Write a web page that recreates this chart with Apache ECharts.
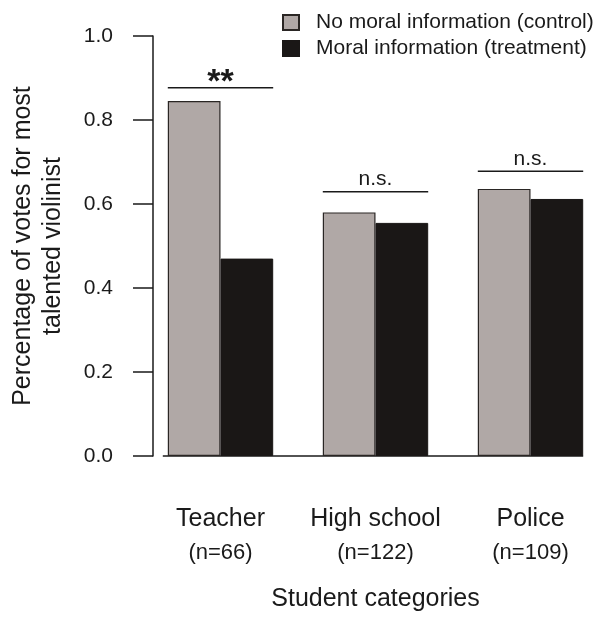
<!DOCTYPE html>
<html>
<head>
<meta charset="utf-8">
<script src="https://cdn.jsdelivr.net/npm/echarts@6/dist/echarts.min.js"></script>
<style>
  html, body { margin: 0; padding: 0; background: #fff; }
  #chart { width: 608px; height: 619px; }
</style>
</head>
<body>
<div id="chart"></div>
<script>
// data
const categories = ['Teacher', 'High school', 'Police']
const sampleSizes = [66, 122, 109]
const controlValues = [0.845, 0.580, 0.636]
const treatmentValues = [0.470, 0.555, 0.612]
const sigLevels = [0.877, 0.629, 0.678]
const sigLabels = ['**', 'n.s.', 'n.s.']

const FONT = 'Liberation Sans, Arial, sans-serif'
const INK = '#1a1a1a'
const chart = echarts.init(document.getElementById('chart'))

// half of the two-bar group width (bars fill 68% of each band)
const groupHalf = (api) => api.size([1, 0])[0] * 0.34

const option = {
  animation: false,
  textStyle: { fontFamily: FONT },
  legend: {
    orient: 'vertical',
    left: 277,
    top: 7,
    icon: 'rect',
    itemWidth: 16,
    itemHeight: 15,
    itemGap: 5,
    textStyle: { fontSize: 21, color: INK, fontFamily: FONT, padding: [0, 0, 0, 12] },
    data: ['No moral information (control)', 'Moral information (treatment)']
  },
  grid: { left: 143, right: -3, top: 36, bottom: 156 },
  xAxis: {
    type: 'category',
    data: categories,
    axisLine: { show: false },
    axisTick: { show: false },
    axisLabel: {
      margin: 46,
      formatter: (v, i) => `{a|${v}}\n{b|(n=${sampleSizes[i]})}`,
      rich: {
        a: { fontSize: 25, color: INK, fontFamily: FONT, lineHeight: 34 },
        b: { fontSize: 22, color: INK, fontFamily: FONT, lineHeight: 34 }
      }
    },
    name: 'Student categories',
    nameLocation: 'middle',
    nameGap: 128,
    nameTextStyle: { fontSize: 25, color: INK, fontFamily: FONT, lineHeight: 30 }
  },
  yAxis: {
    type: 'value',
    min: 0,
    max: 1,
    interval: 0.2,
    offset: -10,
    splitLine: { show: false },
    axisLine: { show: true, lineStyle: { color: INK, width: 1.5 } },
    axisTick: { show: true, length: 20, lineStyle: { color: INK, width: 1.5 } },
    axisLabel: {
      margin: 40,
      fontSize: 21,
      color: INK,
      fontFamily: FONT,
      formatter: (v) => v.toFixed(1)
    },
    name: 'Percentage of votes for most\ntalented violinist',
    nameLocation: 'middle',
    nameGap: 85,
    nameTextStyle: { fontSize: 25, color: INK, fontFamily: FONT, lineHeight: 30 }
  },
  series: [
    {
      name: 'No moral information (control)',
      type: 'bar',
      data: controlValues,
      barGap: '0%',
      barCategoryGap: '32%',
      itemStyle: { color: '#b0a8a6', borderColor: '#2a2624', borderWidth: 1.2 }
    },
    {
      name: 'Moral information (treatment)',
      type: 'bar',
      data: treatmentValues,
      itemStyle: { color: '#1a1716', borderColor: '#1a1716', borderWidth: 1 }
    },
    {
      // significance brackets
      type: 'custom',
      silent: true,
      clip: false,
      data: sigLevels.map((v, i) => [i, v]),
      renderItem: (params, api) => {
        const p = api.coord([api.value(0), api.value(1)])
        const h = groupHalf(api)
        const label = sigLabels[params.dataIndex]
        const big = label === '**'
        return {
          type: 'group',
          children: [
            {
              type: 'line',
              shape: { x1: p[0] - h, y1: p[1], x2: p[0] + h, y2: p[1] },
              style: { stroke: INK, lineWidth: 1.5 }
            },
            {
              type: 'text',
              x: p[0],
              y: big ? p[1] - 5 : p[1] - 2,
              style: {
                text: label,
                fill: INK,
                font: (big ? 'bold 34px ' : '21px ') + FONT,
                align: 'center',
                verticalAlign: big ? 'middle' : 'bottom'
              }
            }
          ]
        }
      }
    },
    {
      // baseline under the bars
      type: 'custom',
      silent: true,
      clip: false,
      data: [[0, 0]],
      renderItem: (params, api) => {
        const h = groupHalf(api)
        const a = api.coord([0, 0])
        const b = api.coord([categories.length - 1, 0])
        return {
          type: 'line',
          shape: { x1: a[0] - h - 5, y1: a[1], x2: b[0] + h, y2: b[1] },
          style: { stroke: INK, lineWidth: 1.5 }
        }
      }
    }
  ]
}

chart.setOption(option)
</script>
</body>
</html>
